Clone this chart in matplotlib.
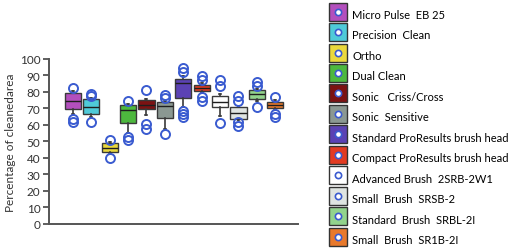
import matplotlib
matplotlib.use('Agg')
import matplotlib.pyplot as plt
from matplotlib.lines import Line2D
from matplotlib.legend_handler import HandlerTuple

plt.rcParams['font.family'] = ['Lato', 'DejaVu Sans']

# --- Data ---
labels = ['Micro Pulse  EB 25', 'Precision  Clean', 'Ortho', 'Dual Clean',
          'Sonic   Criss/Cross', 'Sonic  Sensitive', 'Standard ProResults brush head',
          'Compact ProResults brush head', 'Advanced Brush  2SRB-2W1',
          'Small  Brush  SRSB-2', 'Standard  Brush  SRBL-2I', 'Small  Brush  SR1B-2I']
colors = ['#b34fbd', '#4fcad8', '#ead83c', '#4db83e', '#7c1212', '#8b9892',
          '#5b42b4', '#e23b22', '#ffffff', '#dfe4e1', '#92d38c', '#e8792c']

q1 = [69.7, 66.7, 43.8, 61.2, 69.9, 64.4, 76.2, 80.8, 70.8, 63.6, 75.8, 70.1]
med = [74.7, 71.0, 46.2, 69.3, 72.3, 71.7, 85.2, 82.6, 73.8, 67.2, 79.0, 72.2]
q3 = [79.2, 75.6, 48.9, 72.0, 75.0, 73.7, 87.9, 84.2, 77.6, 70.7, 81.0, 74.2]
whislo = [66.5, 65.0, 42.5, 55.0, 66.0, 57.6, 70.7, 79.5, 65.7, 62.8, 74.5, 69.0]
whishi = [80.5, 76.5, 49.5, 72.5, 76.0, 74.5, 89.9, 85.5, 78.5, 71.5, 82.0, 75.0]
fliers = [[82.5, 63.5, 61.5],
          [78.8, 77.3, 61.5],
          [51.0, 39.8],
          [74.3, 52.5, 51.0],
          [81.3, 60.5, 57.6],
          [78.0, 76.5, 54.5],
          [94.5, 92.3, 68.3, 66.6, 64.6],
          [89.9, 87.3, 77.2, 74.7],
          [87.3, 83.8, 61.3],
          [77.8, 74.7, 61.6, 59.6],
          [85.9, 83.8, 71.1],
          [77.2, 66.7, 65.0]]

stats = []
for i in range(len(labels)):
    stats.append({'med': med[i], 'q1': q1[i], 'q3': q3[i],
                  'whislo': whislo[i], 'whishi': whishi[i],
                  'fliers': fliers[i], 'label': labels[i]})

flier_blue = '#3a5bd0'

fig = plt.figure(figsize=(5.09, 2.51), dpi=100)
ax = fig.add_axes([0.096, 0.104, 0.49, 0.657])

bp = ax.bxp(stats, positions=range(1, 13), widths=0.88, patch_artist=True,
            boxprops=dict(edgecolor='#3a3a3a', linewidth=1.0),
            medianprops=dict(color='#1e1e1e', linewidth=1.0),
            whiskerprops=dict(color='#3a3a3a', linewidth=1.2),
            capprops=dict(color='#3a3a3a', linewidth=1.2),
            flierprops=dict(marker='o', markerfacecolor='none',
                            markeredgecolor=flier_blue, markersize=6.5,
                            markeredgewidth=1.4))
for box, c in zip(bp['boxes'], colors):
    box.set_facecolor(c)
for cap in bp['caps']:
    cap.set_xdata([cap.get_xdata()[0] + 0.27, cap.get_xdata()[1] - 0.27])

ax.set_xlim(-0.3, 13.25)
ax.set_ylim(0, 100)
ax.set_yticks(range(0, 101, 10))
ax.set_xticks([])
ax.tick_params(axis='y', direction='out', length=4, width=1.2, colors='#444444',
               labelsize=8.5, labelcolor='#333333', pad=2)
for side in ['top', 'right']:
    ax.spines[side].set_visible(False)
for side in ['left', 'bottom']:
    ax.spines[side].set_color('#555555')
    ax.spines[side].set_linewidth(1.4)
ax.set_ylabel('Percentage of cleanedarea', fontsize=8.5, color='#333333', labelpad=3)

# --- Legend: coloured squares with a small circle inside ---
handles = []
for c in colors:
    sq = Line2D([], [], linestyle='none', marker='s', markersize=13.5,
                markerfacecolor=c, markeredgecolor='#333333', markeredgewidth=1.0)
    dot = Line2D([], [], linestyle='none', marker='o', markersize=4.5,
                 markerfacecolor='white', markeredgecolor=flier_blue,
                 markeredgewidth=1.2)
    handles.append((sq, dot))

fig.legend(handles, labels, handler_map={tuple: HandlerTuple(ndivide=1)},
           numpoints=1, loc='upper left', bbox_to_anchor=(0.643, 0.975),
           frameon=False, fontsize=8, handlelength=2.0, handleheight=2.15,
           handletextpad=0.25, labelspacing=0.2, borderpad=0, borderaxespad=0)

plt.savefig('out.png', dpi=100)
plt.close()
